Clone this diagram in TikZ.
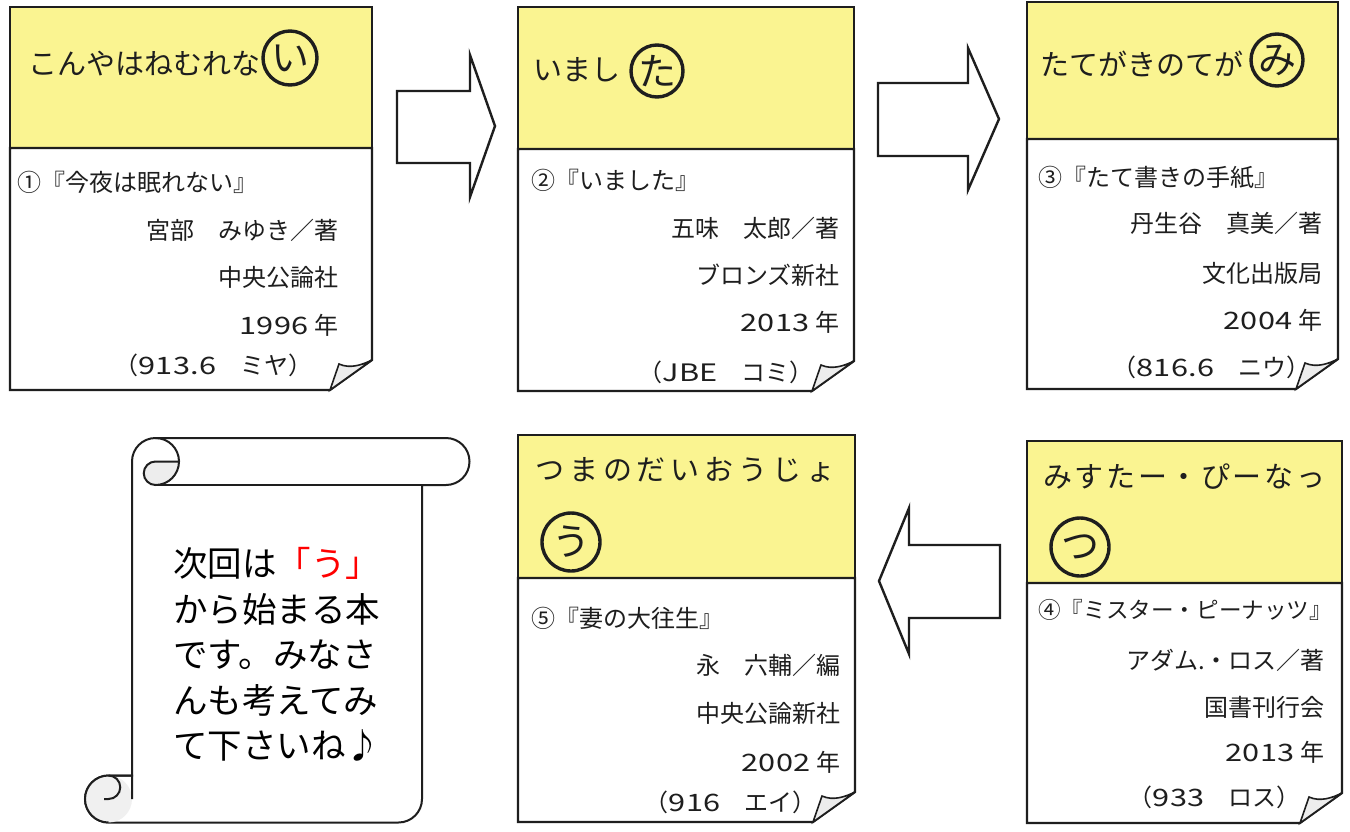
\documentclass[tikz,border=0pt]{standalone}
\usepackage{fontspec}
\setmainfont{Noto Sans CJK JP}
\definecolor{cardyellow}{RGB}{250,244,145}
\definecolor{inkc}{RGB}{30,30,30}
\newcommand\dg[1]{{\addfontfeature{FakeStretch=1.28,LetterSpace=2}#1}}
\newcommand\bookcard[5]{% L T M R B
  \fill[cardyellow] (#1,#2) rectangle (#4,#3);
  \draw[cardline] (#1,#2) rectangle (#4,#3);
  \draw[cardline, fill=white] (#1,#3) -- (#4,#3) -- (#4,{#5-30}) -- ({#4-42},#5) -- (#1,#5) -- cycle;
  \draw[cardline, line width=1.6pt, fill=gray!14] ({#4-42},#5) -- ({#4-33},{#5-26}) .. controls ({#4-22},{#5-21}) and ({#4-10},{#5-25}) .. (#4,{#5-30}) -- cycle;
}
\begin{document}
\begin{tikzpicture}[x=1pt,y=-1pt,
  cardline/.style={line width=2.2pt, draw=inkc, line join=miter},
  arrowline/.style={line width=2.4pt, draw=inkc, fill=white, line join=miter},
  scrollline/.style={line width=2pt, draw=inkc},
  title/.style={font=\fontsize{29}{29}\selectfont, inner sep=0, anchor=west, text=inkc},
  ring/.style={circle, draw=inkc, line width=3.4pt, inner sep=0, minimum size=54pt, font=\fontsize{38}{38}\selectfont, text=inkc},
  body/.style={font=\fontsize{24}{24}\selectfont, inner sep=0, text=inkc},
  scrolltext/.style={font=\fontsize{34.5}{34.5}\selectfont, inner sep=0, anchor=west, text=black}]
\useasboundingbox (0,0) rectangle (1350,831);
\fill[white] (0,0) rectangle (1350,831);

% ---------- block arrows ----------
\draw[arrowline] (397,91) -- (470,91) -- (470,55) -- (495,126) -- (470,197) -- (470,163) -- (397,163) -- cycle;
\draw[arrowline] (878,83) -- (968,83) -- (968,48) -- (999,119) -- (968,190) -- (968,156) -- (878,156) -- cycle;
\draw[arrowline] (1000,545) -- (909,545) -- (909,508) -- (879,581) -- (909,654) -- (909,618) -- (1000,618) -- cycle;

% ---------- card 1 ----------
\bookcard{10}{7}{148}{372}{390}
\node[title] (t1) at (28,64) {こんやはねむれな};
\node[ring] (c1) at (290,58) {い};
\node[body, anchor=west] (b1a) at (17,182) {①『今夜は眠れない』};
\node[body, anchor=east] (b1b) at (339,230) {宮部　みゆき／著};
\node[body, anchor=east] (b1c) at (339,277) {中央公論社};
\node[body, anchor=east] (b1d) at (339,325) {\dg{1996}\hspace{6pt}年};
\node[body, anchor=east] (b1e) at (313,365) {（\dg{913.6}　ミヤ）};

% ---------- card 2 ----------
\bookcard{518}{7}{149}{854}{391}
\node[title] (t2) at (533,70) {いまし};
\node[ring, minimum size=52pt] (c2) at (657,71) {た};
\node[body, anchor=west] (b2a) at (531,180) {②『いました』};
\node[body, anchor=east] (b2b) at (840,228) {五味　太郎／著};
\node[body, anchor=east] (b2c) at (840,275) {ブロンズ新社};
\node[body, anchor=east] (b2d) at (840,322) {\dg{2013}\hspace{6pt}年};
\node[body, anchor=east] (b2e) at (814,372) {（\dg{JBE}　コミ）};

% ---------- card 3 ----------
\bookcard{1027}{2}{139}{1338}{389}
\node[title] (t3) at (1040,64) {たてがきのてが};
\node[ring, minimum size=52pt] (c3) at (1277,60) {み};
\node[body, anchor=west] (b3a) at (1038,178) {③『たて書きの手紙』};
\node[body, anchor=east] (b3b) at (1323,223) {丹生谷　真美／著};
\node[body, anchor=east] (b3c) at (1323,273) {文化出版局};
\node[body, anchor=east] (b3d) at (1323,320) {\dg{2004}\hspace{6pt}年};
\node[body, anchor=east] (b3e) at (1311,367) {（\dg{816.6}　ニウ）};

% ---------- card 5 ----------
\bookcard{518}{435}{578}{855}{822}
\node[title] (t5) at (535,470) {\addfontfeature{LetterSpace=17}つまのだいおうじょ};
\node[ring, minimum size=58pt] (c5) at (571,542) {う};
\node[body, anchor=west] (b5a) at (531,618) {⑤『妻の大往生』};
\node[body, anchor=east] (b5b) at (841,665) {永　六輔／編};
\node[body, anchor=east] (b5c) at (841,713) {中央公論新社};
\node[body, anchor=east] (b5d) at (841,762) {\dg{2002}\hspace{6pt}年};
\node[body, anchor=east] (b5e) at (817,802) {（\dg{916}　エイ）};

% ---------- card 4 ----------
\bookcard{1027}{441}{583}{1342}{823}
\node[title] (t4) at (1043,477) {\addfontfeature{LetterSpace=9}みすたー・ぴーなっ};
\node[ring, minimum size=58pt] (c4) at (1080,547) {つ};
\node[body, anchor=west, font=\fontsize{22.6}{22.6}\selectfont] (b4a) at (1038,610) {④『ミスター・ピーナッツ』};
\node[body, anchor=east] (b4b) at (1325,660) {アダム.・ロス／著};
\node[body, anchor=east] (b4c) at (1325,707) {国書刊行会};
\node[body, anchor=east] (b4d) at (1325,752) {\dg{2013}\hspace{6pt}年};
\node[body, anchor=east] (b4e) at (1301,797) {（\dg{933}　ロス）};

% ---------- scroll ----------
\draw[scrollline, fill=white] (155.5,438) -- (446,438)
  arc[start angle=-90, end angle=90, radius=23.5] -- (422,485) -- (422,799)
  arc[start angle=0, end angle=90, radius=23.5] -- (108.5,822.5)
  arc[start angle=90, end angle=270, radius=23.5] -- (132,775.5) -- (132,461.5)
  arc[start angle=180, end angle=270, radius=23.5] -- cycle;
% top curl
\draw[scrollline] (155.5,438) arc[start angle=-90, end angle=0, radius=23.5];
\draw[scrollline] (155.5,485) -- (422,485);
\draw[scrollline, fill=gray!14] (155.5,461.5) -- (179,461.5)
  arc[start angle=0, end angle=90, radius=23.5]
  arc[start angle=90, end angle=270, radius=11.75] -- cycle;
% bottom curl
\fill[gray!12] (108.5,799) circle (23.5);
\draw[scrollline] (108.5,822.5) arc[start angle=90, end angle=270, radius=23.5] -- (132,775.5) -- (132,799);
\draw[scrollline] (108.5,775.5) arc[start angle=-90, end angle=90, radius=11.75] -- (104,799);

\node[scrolltext] (s1) at (173,563) {次回は\textcolor{red}{「う」}};
\node[scrolltext] (s2) at (173,609) {から始まる本};
\node[scrolltext] (s3) at (173,655) {です。みなさ};
\node[scrolltext] (s4) at (173,700) {んも考えてみ};
\node[scrolltext] (s5) at (173,745) {て下さいね♪};
\end{tikzpicture}
\end{document}
